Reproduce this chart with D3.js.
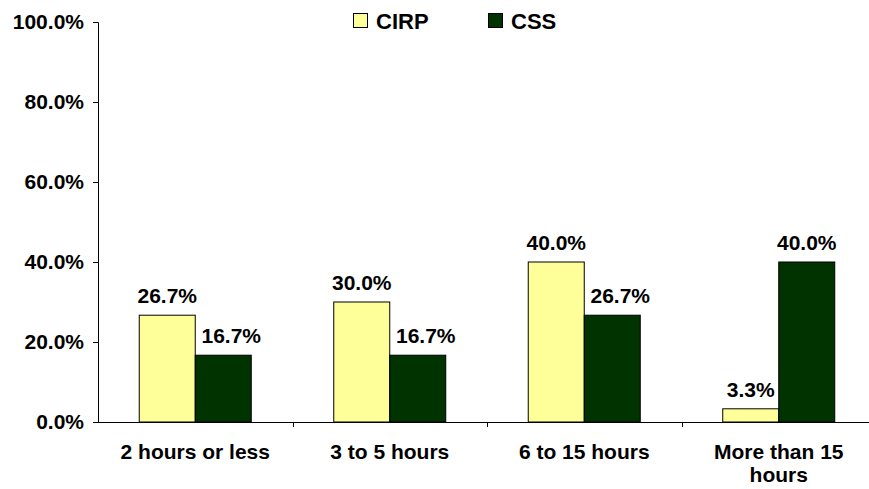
<!DOCTYPE html>
<html>
<head>
<meta charset="utf-8">
<script src="https://cdn.jsdelivr.net/npm/d3@7"></script>
<style>
  body { margin: 0; background: #fff; }
  text { font-family: "Liberation Sans", Arial, sans-serif; font-weight: bold; fill: #000; }
</style>
</head>
<body>
<div id="chart"></div>
<script>
// chart data
var categories = ["2 hours or less", "3 to 5 hours", "6 to 15 hours", "More than 15 hours"];
var seriesNames = ["CIRP", "CSS"];
var cirpValues = [26.7, 30.0, 40.0, 3.3];
var cssValues = [16.7, 16.7, 26.7, 40.0];
var yTicks = [0, 20, 40, 60, 80, 100];
var seriesColors = ["#FFFF99", "#003300"];

// svg and chart parameters
var svgWidth = 869;
var svgHeight = 489;

var margin = { top: 22, right: 0, bottom: 67, left: 98 };
var width = 778; // 4 bands of ~194.5px, runs past the right edge like the original
var height = svgHeight - margin.top - margin.bottom;

var $svg = d3.select("#chart")
  .append("svg")
  .attr("width", svgWidth)
  .attr("height", svgHeight);

var chartGroup = $svg.append("g")
  .attr("transform", `translate(${margin.left}, ${margin.top})`);

// scales
var xScale = d3.scaleBand()
  .domain(categories)
  .range([0, width]);

var xInner = d3.scaleBand()
  .domain(seriesNames)
  .range([0, 112]);

var yScale = d3.scaleLinear()
  .domain([0, 100])
  .range([height, 0]);

// y axis
var yAxis = d3.axisLeft(yScale)
  .tickValues(yTicks)
  .tickSize(5)
  .tickFormat(d => d.toFixed(1) + "%");

var yAxisG = chartGroup.append("g").call(yAxis);
yAxisG.select(".domain").attr("stroke", "#000").attr("d", `M-5,0.5H0.5V${height}`);
yAxisG.selectAll(".tick line").attr("stroke", "#000");
yAxisG.selectAll(".tick text")
  .attr("x", -14)
  .attr("font-size", "21px")
  .attr("font-family", "Liberation Sans, Arial, sans-serif")
  .attr("font-weight", "bold");

// x axis line and category ticks
chartGroup.append("line")
  .attr("x1", 0).attr("x2", svgWidth)
  .attr("y1", height + 0.5).attr("y2", height + 0.5)
  .attr("stroke", "#000");

chartGroup.selectAll("line.xtick")
  .data(categories)
  .enter()
  .append("line")
  .attr("class", "xtick")
  .attr("x1", d => Math.round(xScale(d) + xScale.bandwidth()) + 0.5)
  .attr("x2", d => Math.round(xScale(d) + xScale.bandwidth()) + 0.5)
  .attr("y1", height)
  .attr("y2", height + 5)
  .attr("stroke", "#000");

// category labels, wrapped like the original
var catLines = { "More than 15 hours": ["More than 15", "hours"] };
var catLabels = chartGroup.selectAll("text.cat")
  .data(categories)
  .enter()
  .append("text")
  .attr("class", "cat")
  .attr("text-anchor", "middle")
  .attr("font-size", "21px")
  .attr("x", d => xScale(d) + xScale.bandwidth() / 2)
  .attr("y", height + 37);

catLabels.each(function(d) {
  var lines = catLines[d] || [d];
  var t = d3.select(this);
  lines.forEach(function(line, i) {
    t.append("tspan")
      .attr("x", xScale(d) + xScale.bandwidth() / 2)
      .attr("dy", i === 0 ? 0 : 23)
      .text(line);
  });
});

// bars
var rows = categories.map((c, i) => ({ cat: c, values: [cirpValues[i], cssValues[i]] }));
var groupOffset = (xScale.bandwidth() - 112) / 2;

var groups = chartGroup.selectAll("g.group")
  .data(rows)
  .enter()
  .append("g")
  .attr("class", "group")
  .attr("transform", d => `translate(${xScale(d.cat) + groupOffset}, 0)`);

groups.selectAll("rect")
  .data(d => d.values.map((v, j) => ({ name: seriesNames[j], value: v, j: j })))
  .enter()
  .append("rect")
  .attr("x", d => xInner(d.name))
  .attr("y", d => yScale(d.value))
  .attr("width", xInner.bandwidth())
  .attr("height", d => height - yScale(d.value))
  .attr("fill", d => seriesColors[d.j])
  .attr("stroke", "#000")
  .attr("stroke-width", 1);

// value labels; CSS label nudged right when it sits beside a taller CIRP bar
groups.selectAll("text.val")
  .data(d => d.values.map((v, j) => ({ name: seriesNames[j], value: v, j: j, other: d.values[1 - j] })))
  .enter()
  .append("text")
  .attr("class", "val")
  .attr("text-anchor", "middle")
  .attr("font-size", "21px")
  .attr("x", d => xInner(d.name) + xInner.bandwidth() / 2 + (d.j === 1 && d.other > d.value ? 8 : 0))
  .attr("y", d => yScale(d.value) - 12)
  .text(d => d.value.toFixed(1) + "%");

// legend
var legend = $svg.append("g").attr("class", "legend");
var legendX = [353, 488];
seriesNames.forEach(function(name, i) {
  legend.append("rect")
    .attr("x", legendX[i] + 0.5)
    .attr("y", 13.5)
    .attr("width", 14)
    .attr("height", 14)
    .attr("fill", seriesColors[i])
    .attr("stroke", "#000");
  legend.append("text")
    .attr("x", legendX[i] + 23)
    .attr("y", 29)
    .attr("font-size", "22px")
    .text(name);
});
</script>
</body>
</html>
